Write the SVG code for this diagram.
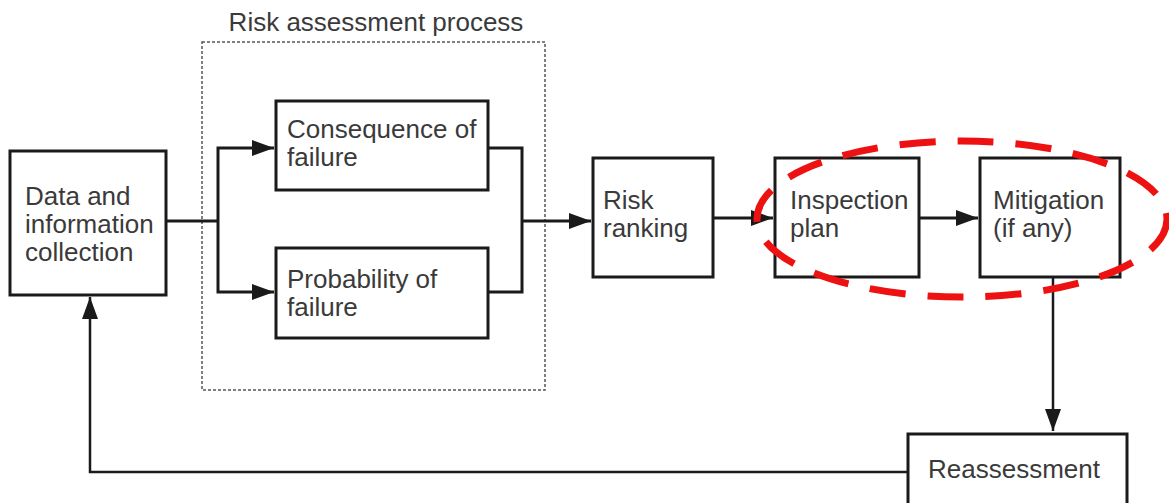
<svg xmlns="http://www.w3.org/2000/svg" width="1169" height="503" viewBox="0 0 1169 503">
<style>
.box{fill:#fff;stroke:#1a1a1a;stroke-width:3}
.t{font-family:"Liberation Sans",Arial,sans-serif;font-size:26px;fill:#3a3a3a}
.c{fill:none;stroke:#1a1a1a;stroke-width:3}
.thin{fill:none;stroke:#1a1a1a;stroke-width:2.5}
</style>
<defs>
<marker id="a" viewBox="0 0 10 10" refX="10" refY="5" markerWidth="22" markerHeight="16" orient="auto" markerUnits="userSpaceOnUse" preserveAspectRatio="none">
<path d="M0,0 L10,5 L0,10 z" fill="#1a1a1a"/>
</marker>
</defs>
<rect width="1169" height="503" fill="#fff"/>
<g id="group-risk">
<rect x="202" y="42" width="343" height="348" fill="none" stroke="#555" stroke-width="1.5" stroke-dasharray="3 2"/>
<text class="t" x="376" y="31" text-anchor="middle">Risk assessment process</text>
</g>
<g id="connectors">
<polyline class="c" points="166,221 218,221"/>
<polyline class="c" points="218,221 218,148 274,148" marker-end="url(#a)"/>
<polyline class="c" points="218,221 218,292 274,292" marker-end="url(#a)"/>
<polyline class="c" points="488,148 522,148 522,292 488,292"/>
<line class="c" x1="522" y1="221" x2="591" y2="221" marker-end="url(#a)"/>
<line class="c" x1="713" y1="218" x2="773" y2="218" marker-end="url(#a)"/>
<line class="c" x1="919" y1="218" x2="978" y2="218" marker-end="url(#a)"/>
<line class="thin" x1="1053" y1="277" x2="1053" y2="431" marker-end="url(#a)"/>
<polyline class="thin" points="908,472 90,472 90,297" marker-end="url(#a)"/>
</g>
<g id="data">
<rect class="box" x="10" y="151" width="156" height="144"/>
<text class="t" x="25" y="205">Data and</text>
<text class="t" x="25" y="233">information</text>
<text class="t" x="25" y="261">collection</text>
</g>
<g id="consequence">
<rect class="box" x="276" y="101" width="212" height="89"/>
<text class="t" x="287" y="138">Consequence of</text>
<text class="t" x="287" y="166">failure</text>
</g>
<g id="probability">
<rect class="box" x="276" y="248" width="212" height="90"/>
<text class="t" x="287" y="288">Probability of</text>
<text class="t" x="287" y="316">failure</text>
</g>
<g id="risk-ranking">
<rect class="box" x="593" y="158" width="120" height="119"/>
<text class="t" x="603" y="209">Risk</text>
<text class="t" x="603" y="237">ranking</text>
</g>
<g id="inspection">
<rect class="box" x="775" y="158" width="144" height="119"/>
<text class="t" x="790" y="209">Inspection</text>
<text class="t" x="790" y="237">plan</text>
</g>
<g id="mitigation">
<rect class="box" x="980" y="158" width="140" height="119"/>
<text class="t" x="993" y="209">Mitigation</text>
<text class="t" x="993" y="237">(if any)</text>
</g>
<g id="reassessment">
<rect class="box" x="908" y="434" width="219" height="80"/>
<text class="t" x="928" y="478">Reassessment</text>
</g>
<g id="highlight">
<ellipse cx="962" cy="219" rx="205" ry="78" fill="none" stroke="#ee1111" stroke-width="7" stroke-dasharray="36 22"/>
</g>
</svg>
